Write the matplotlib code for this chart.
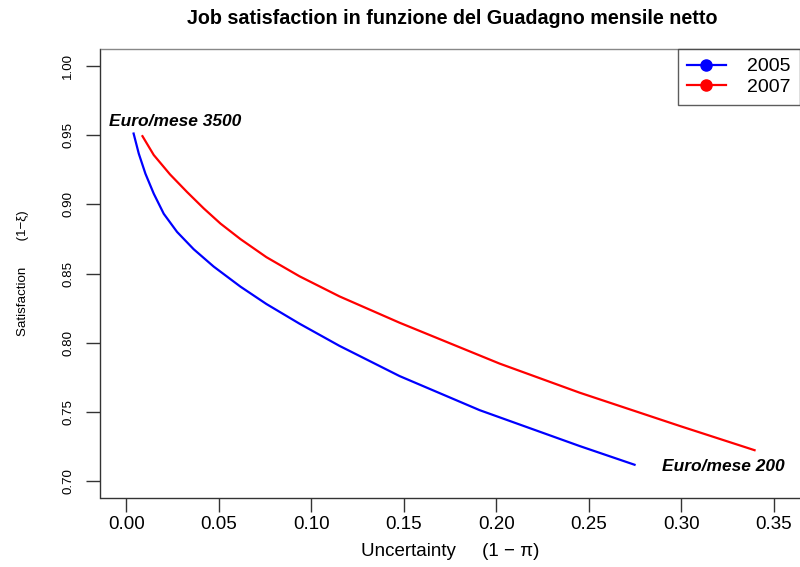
import matplotlib
matplotlib.use('Agg')
import matplotlib.pyplot as plt
from matplotlib.lines import Line2D

plt.rcParams['font.family'] = ['Liberation Sans', 'DejaVu Sans']
narrow = ['Liberation Sans Narrow', 'Liberation Sans', 'DejaVu Sans']

# curve points, uncertainty (1-pi) vs satisfaction (1-xi)
unc_2005 = [0.0039, 0.0067, 0.0103, 0.0148, 0.0202, 0.0274, 0.0364, 0.0472,
            0.0617, 0.0757, 0.0936, 0.1152, 0.1477, 0.1910, 0.2451, 0.2748]
sat_2005 = [0.951, 0.9365, 0.922, 0.9076, 0.8931, 0.880, 0.8675, 0.855,
            0.8405, 0.828, 0.8138, 0.7978, 0.776, 0.7514, 0.7255, 0.712]
unc_2007 = [0.0087, 0.0148, 0.0236, 0.0328, 0.0418, 0.0509, 0.0617, 0.0757,
            0.0936, 0.1152, 0.1477, 0.2018, 0.2451, 0.2992, 0.3397]
sat_2007 = [0.9491, 0.9355, 0.9215, 0.9088, 0.897, 0.886, 0.8748, 0.8618,
            0.848, 0.8335, 0.8145, 0.785, 0.764, 0.740, 0.7225]

years = ['2005', '2007']
colors = ['#0000ff', '#ff0000']
xticks = [0.00, 0.05, 0.10, 0.15, 0.20, 0.25, 0.30, 0.35]
yticks = [0.70, 0.75, 0.80, 0.85, 0.90, 0.95, 1.00]

fig = plt.figure(figsize=(8, 5.67), dpi=100)
ax = fig.add_axes([100.5 / 800, 1 - 498 / 567, 699 / 800, 449 / 567])

ax.plot(unc_2005, sat_2005, color=colors[0], lw=1.6)
ax.plot(unc_2007, sat_2007, color=colors[1], lw=1.6)

ax.text(0.0265, 0.960, 'Euro/mese 3500', ha='center', va='center',
        fontsize=12.5, fontweight='bold', fontstyle='italic')
ax.text(0.323, 0.7105, 'Euro/mese 200', ha='center', va='center',
        fontsize=12.5, fontweight='bold', fontstyle='italic')

ax.set_xlim(-0.014, 0.364)
ax.set_ylim(0.688, 1.012)
ax.set_xticks(xticks)
ax.set_xticklabels(['%.2f' % v for v in xticks], fontsize=13.5)
ax.set_yticks(yticks)
ax.set_yticklabels(['%.2f' % v for v in yticks], family=narrow, fontsize=9.6,
                   rotation=90, va='center')
ax.tick_params(direction='out', length=10, width=1, color='#333333')
ax.tick_params(axis='x', pad=3)
ax.tick_params(axis='y', pad=9)
for s in ax.spines.values():
    s.set_color('#333333')
    s.set_linewidth(1)
ax.spines['top'].set_color('#888888')
ax.spines['right'].set_visible(False)

ax.set_xlabel('Uncertainty     (1 \u2212 \u03c0)', fontsize=13.5, labelpad=7)
ax.set_ylabel('Satisfaction       (1\u2212\u03be)', family=narrow,
              fontsize=9.6, labelpad=24)
fig.suptitle('Job satisfaction in funzione del Guadagno mensile netto',
             x=452 / 800, y=1 - 18 / 567, va='center', fontsize=14.2,
             fontweight='bold')

handles = [Line2D([], [], color=c, lw=1.6, marker='o', markersize=8)
           for c in colors]
leg = ax.legend(handles, years, loc='upper right', fontsize=14,
                frameon=True, fancybox=False, borderaxespad=0,
                handlelength=2.0, handletextpad=1.1, labelspacing=0.15,
                borderpad=0.45)
leg.get_frame().set_edgecolor('#333333')
leg.get_frame().set_linewidth(1)

fig.savefig('out.png', dpi=100)
